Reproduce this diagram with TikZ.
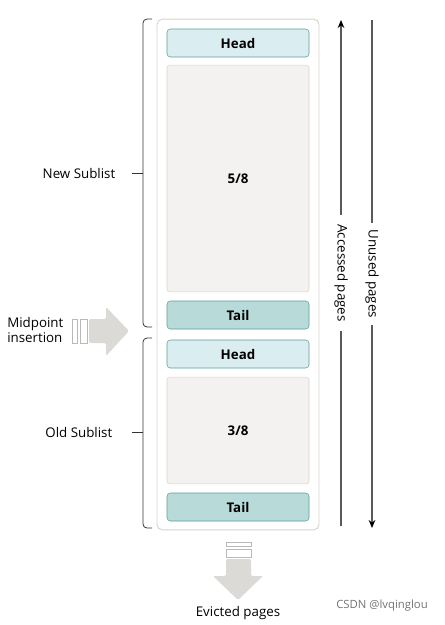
\documentclass[tikz,border=0pt]{standalone}
\usepackage{fontspec}
\setmainfont{Open Sans}
\usetikzlibrary{arrows.meta}
\definecolor{headfill}{HTML}{DAEDF0}
\definecolor{tailfill}{HTML}{B8DBD9}
\definecolor{teal}{HTML}{5F9C9B}
\definecolor{pagefill}{HTML}{F3F2F1}
\definecolor{pageline}{HTML}{D8D3CE}
\definecolor{arrowfill}{HTML}{DCDAD7}
\tikzstyle{every node}=[font=\fontsize{10}{12}\selectfont]
\tikzstyle{pagebox}=[draw=pageline, fill=pagefill, rounded corners=2pt,
                     minimum width=106.5pt, inner sep=0pt,
                     font=\fontsize{10}{12}\selectfont\bfseries]
\tikzstyle{headbox}=[draw=teal, fill=headfill, rounded corners=2.5pt,
                     minimum width=106.5pt, minimum height=21pt, inner sep=0pt,
                     font=\fontsize{10}{12}\selectfont\bfseries]
\tikzstyle{tailbox}=[headbox, fill=tailfill]
\tikzstyle{brace}=[draw=black!80, line width=.6pt, rounded corners=3pt]
\tikzstyle{flow}=[draw=black!65, line width=.9pt, -{Stealth[length=6pt,width=5pt,black]}]
\tikzstyle{bigarrow}=[fill=arrowfill, draw=none, rounded corners=1pt]
\tikzstyle{bar}=[fill=white, draw=arrowfill!85!black, line width=.5pt]
\begin{document}
\begin{tikzpicture}[x=.75pt, y=-.75pt]
  \useasboundingbox (0,0) rectangle (444,625);
  % buffer pool
  \node[draw=pageline, line width=.7pt, fill=white, rounded corners=4pt,
        minimum width=121.5pt, minimum height=383pt] (pool) at (238,274.5) {};
  \node[headbox] (newhead) at (238,43) {Head};
  \node[pagebox, minimum height=170pt] (newpages) at (238,178.5) {5/8};
  \node[tailbox] (newtail) at (238,315) {Tail};
  \node[headbox] (oldhead) at (238,354) {Head};
  \node[pagebox, minimum height=80pt] (oldpages) at (238,430.5) {3/8};
  \node[tailbox] (oldtail) at (238,507) {Tail};

  % sublists
  \draw[brace] (152,19) -- (143,19) -- (143,327) -- (152,327);
  \draw[brace] (132,173) -- (143,173);
  \node[anchor=east] (newlist) at (120,173) {New Sublist};
  \draw[brace] (152,338) -- (143,338) -- (143,528) -- (152,528);
  \draw[brace] (132,432) -- (143,432);
  \node[anchor=east] (oldlist) at (117,432) {Old Sublist};

  % midpoint insertion
  \node[align=left, anchor=west, inner sep=0pt,
        font=\fontsize{10}{11.5}\selectfont] (midpoint) at (7,330) {Midpoint\\insertion};
  \draw[bar] (72,319) rectangle (77,343);
  \draw[bar] (80,319) rectangle (87,343);
  \draw[bigarrow] (89,319) -- (106,319) -- (106,307) -- (129,331)
        -- (106,356) -- (106,343) -- (89,343) -- cycle;

  % evicted pages
  \draw[bar] (226,542) rectangle (251,546);
  \draw[bar] (226,549) rectangle (251,557);
  \draw[bigarrow] (226,559) -- (251,559) -- (251,576) -- (263,576) -- (238,600)
        -- (213,576) -- (226,576) -- cycle;
  \node (evicted) at (238,613) {Evicted pages};

  % page flow
  \coordinate (acctop) at (341,20);
  \coordinate (accbot) at (341,526);
  \coordinate (unutop) at (372,20);
  \coordinate (unubot) at (372,528);
  \draw[flow] (accbot) -- (acctop)
        node[midway, fill=white, rotate=-90, inner xsep=7pt] {Accessed pages};
  \draw[flow] (unutop) -- (unubot)
        node[midway, fill=white, rotate=-90, inner xsep=5pt] {Unused pages};

  \node[text=black!55, font=\fontsize{8.5}{10}\selectfont] (mark) at (382,606) {CSDN @lvqinglou};
\end{tikzpicture}
\end{document}
